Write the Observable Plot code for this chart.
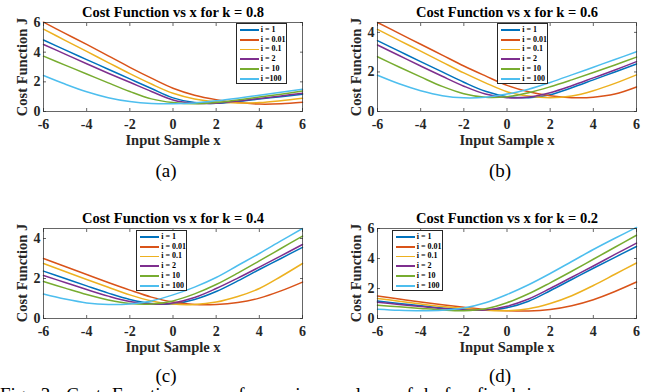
<!DOCTYPE html>
<html><head><meta charset="utf-8">
<script src="https://cdn.jsdelivr.net/npm/d3@7"></script>
<script src="https://cdn.jsdelivr.net/npm/@observablehq/plot@0.6"></script>
<style>
body{margin:0;background:#fff;}
#root{position:relative;width:656px;height:392px;overflow:hidden;background:#fff;font-family:"Liberation Serif","Times New Roman",serif;}
.panel{position:absolute;}
.legend{position:absolute;border:0.8px solid #262626;background:#fff;box-sizing:border-box;padding-top:1px;}
.row{display:flex;align-items:center;height:9.8px;}
.sw{width:19px;height:1.8px;margin-left:3px;flex:none;}
.lb{margin-left:2px;font-size:8px;font-weight:bold;color:#000;white-space:nowrap;line-height:8px;}
.ylab{position:absolute;width:120px;height:18px;line-height:18px;text-align:center;font-size:14.5px;font-weight:bold;color:#262626;transform:rotate(-90deg);white-space:nowrap;}
#caption{position:absolute;left:0;top:384px;font-size:19px;white-space:nowrap;color:#000;word-spacing:6px;}
</style></head><body><div id="root"></div>
<script>
// ---- data ----
const xValues = [-6,-5,-4,-3,-2,-1,0,1,2,3,4,5,6];
const xTicks = [-6,-4,-2,0,2,4,6];
const iValues = ["1","0.01","0.1","2","10","100"];
const seriesColors = ["#0072BD","#D95319","#EDB120","#7E2F8E","#77AC30","#4DBEEE"];
const kValues = [0.8,0.6,0.4,0.2];
const panelLetters = ["a","b","c","d"];
const yTicksA = [0,2,4,6];
const yTicksB = [0,2,4];
const yTicksC = [0,2,4];
const yTicksD = [0,2,4,6];
const yMaxA = 6, yMaxB = 4.5, yMaxC = 4.5, yMaxD = 6;
const legendLabelsA = ["i = 1","i = 0.01","i = 0.1","i = 2","i = 10","i =100"];
const legendLabelsB = ["i = 1","i = 0.01","i = 0.1","i = 2","i = 10","i = 100"];
const xLabel = "Input Sample x";
const yLabel = "Cost Function J";
const captionText = "Fig. 3: Cost Function vs x for various values of k for fixed i";

// cost values per series (order of iValues), k = 0.8
const costK08 = [
  [4.82,4.15,3.5,2.85,2.2,1.55,0.92,0.6,0.55,0.67,0.84,1.0,1.17],
  [6.02,5.27,4.52,3.75,2.98,2.25,1.57,1.1,0.8,0.6,0.5,0.52,0.62],
  [5.55,4.8,4.05,3.3,2.55,1.85,1.23,0.85,0.65,0.57,0.6,0.73,0.9],
  [4.52,3.87,3.22,2.58,1.97,1.35,0.78,0.55,0.56,0.7,0.88,1.05,1.23],
  [3.73,3.13,2.53,1.93,1.35,0.85,0.6,0.52,0.6,0.78,0.97,1.17,1.38],
  [2.43,1.85,1.33,0.93,0.67,0.54,0.52,0.58,0.72,0.9,1.1,1.3,1.5]
];
// k = 0.6
const costK06 = [
  [3.58,3.05,2.52,2.0,1.48,1.02,0.75,0.7,0.85,1.2,1.6,2.0,2.4],
  [4.5,3.95,3.4,2.85,2.3,1.8,1.32,1.0,0.8,0.7,0.72,0.88,1.24],
  [4.15,3.6,3.05,2.5,1.95,1.45,1.0,0.78,0.7,0.78,1.05,1.42,1.85],
  [3.36,2.83,2.3,1.78,1.28,0.88,0.7,0.73,0.95,1.3,1.7,2.1,2.52],
  [2.77,2.25,1.75,1.27,0.9,0.72,0.75,0.95,1.25,1.6,1.97,2.35,2.75],
  [1.83,1.4,1.05,0.8,0.69,0.72,0.88,1.13,1.47,1.85,2.24,2.63,3.02]
];
// k = 0.4
const costK04 = [
  [2.37,2.0,1.63,1.27,0.95,0.75,0.73,0.95,1.35,1.88,2.45,3.0,3.56],
  [3.0,2.6,2.2,1.8,1.42,1.07,0.82,0.7,0.7,0.8,1.02,1.38,1.82],
  [2.75,2.35,1.95,1.56,1.18,0.88,0.72,0.7,0.82,1.1,1.5,2.1,2.75],
  [2.15,1.8,1.45,1.12,0.85,0.72,0.78,1.05,1.5,2.02,2.57,3.13,3.7],
  [1.85,1.52,1.2,0.93,0.75,0.72,0.88,1.23,1.7,2.27,2.88,3.5,4.12],
  [1.22,0.97,0.78,0.7,0.73,0.88,1.18,1.57,2.05,2.65,3.25,3.88,4.5]
];
// k = 0.2
const costK02 = [
  [1.16,1.0,0.85,0.7,0.58,0.55,0.72,1.15,1.85,2.6,3.35,4.08,4.8],
  [1.5,1.3,1.1,0.92,0.75,0.6,0.52,0.5,0.6,0.85,1.25,1.8,2.43],
  [1.34,1.15,0.97,0.8,0.66,0.55,0.52,0.65,1.0,1.52,2.2,2.95,3.7],
  [1.09,0.94,0.8,0.66,0.56,0.57,0.82,1.3,2.0,2.75,3.5,4.27,5.02],
  [0.89,0.78,0.67,0.57,0.52,0.65,1.05,1.65,2.38,3.15,3.95,4.75,5.55],
  [0.62,0.55,0.52,0.55,0.7,1.05,1.6,2.25,3.0,3.8,4.6,5.35,6.07]
];

// ---- layout ----
const root = document.getElementById("root");
const ink = "#262626";
const fmt = d => String(d);

const panels = [
  {cost: costK08, k: kValues[0], letter: panelLetters[0], yMax: yMaxA, yTicks: yTicksA, labels: legendLabelsA,
   left: 0, top: 0, w: 328, h: 195, mL: 43, mR: 26, mT: 22, mB: 84, legL: 235.7, legT: 23},
  {cost: costK06, k: kValues[1], letter: panelLetters[1], yMax: yMaxB, yTicks: yTicksB, labels: legendLabelsB,
   left: 328, top: 0, w: 328, h: 195, mL: 49, mR: 20, mT: 22, mB: 84, legL: 497.3, legT: 23},
  {cost: costK04, k: kValues[2], letter: panelLetters[2], yMax: yMaxC, yTicks: yTicksC, labels: legendLabelsB,
   left: 0, top: 195, w: 328, h: 197, mL: 43, mR: 26, mT: 33, mB: 74, legL: 136.3, legT: 230},
  {cost: costK02, k: kValues[3], letter: panelLetters[3], yMax: yMaxD, yTicks: yTicksD, labels: legendLabelsB,
   left: 328, top: 195, w: 328, h: 197, mL: 49, mR: 20, mT: 33, mB: 74, legL: 391.7, legT: 230}
];

for (const p of panels) {
  const data = p.cost.flatMap((vals, s) => vals.map((v, j) => ({x: xValues[j], y: v, series: iValues[s]})));
  const tickStyle = {stroke: ink, strokeWidth: 0.7, tickFormat: () => "", label: null};
  const chart = Plot.plot({
    width: p.w, height: p.h,
    marginLeft: p.mL, marginRight: p.mR, marginTop: p.mT, marginBottom: p.mB,
    style: {fontFamily: '"Liberation Serif","Times New Roman",serif', fontWeight: "bold", fontSize: "14px", color: ink, background: "transparent", overflow: "visible"},
    x: {domain: [-6, 6], axis: null},
    y: {domain: [0, p.yMax], axis: null},
    color: {domain: iValues, range: seriesColors},
    marks: [
      Plot.line(data, {x: "x", y: "y", z: "series", stroke: "series", strokeWidth: 1.5, curve: "catmull-rom"}),
      Plot.frame({stroke: ink, strokeWidth: 0.7}),
      Plot.axisX({anchor: "bottom", ticks: xTicks, tickSize: -3, ...tickStyle}),
      Plot.axisX({anchor: "top", ticks: xTicks, tickSize: -3, ...tickStyle}),
      Plot.axisY({anchor: "left", ticks: p.yTicks, tickSize: -3, ...tickStyle}),
      Plot.axisY({anchor: "right", ticks: p.yTicks, tickSize: -3, ...tickStyle}),
      Plot.axisX({anchor: "bottom", ticks: xTicks, tickFormat: fmt, tickSize: 0, tickPadding: 8, label: null, fill: ink, fontSize: 14}),
      Plot.axisY({anchor: "left", ticks: p.yTicks, tickFormat: fmt, tickSize: 0, tickPadding: 3, label: null, fill: ink, fontSize: 14}),
      Plot.text([`Cost Function vs x for k = ${p.k}`], {frameAnchor: "top", dy: -10.5, fontSize: 14.5, fontWeight: "bold", fill: "#000", lineAnchor: "middle"}),
      Plot.text([xLabel], {frameAnchor: "bottom", dy: 29, fontSize: 14.5, fontWeight: "bold", fill: ink, lineAnchor: "middle"}),
      Plot.text([`(${p.letter})`], {frameAnchor: "bottom", dy: p.top === 0 ? 59 : 57, dx: -7, fontSize: 19, fontWeight: "normal", fill: "#000", lineAnchor: "middle"})
    ]
  });
  chart.classList.add("panel");
  chart.style.left = p.left + "px";
  chart.style.top = p.top + "px";
  root.appendChild(chart);

  // y label (rotated), centered on the frame's vertical middle
  const yl = document.createElement("div");
  yl.className = "ylab";
  yl.textContent = yLabel;
  const cx = p.left + p.mL - 21;
  const cy = p.top + p.mT + (p.h - p.mT - p.mB) / 2;
  yl.style.left = (cx - 60) + "px";
  yl.style.top = (cy - 9) + "px";
  root.appendChild(yl);

  // legend box
  const leg = document.createElement("div");
  leg.className = "legend";
  leg.style.left = p.legL + "px";
  leg.style.top = p.legT + "px";
  leg.style.width = "51px";
  leg.style.height = "60.5px";
  p.labels.forEach((lab, s) => {
    const row = document.createElement("div");
    row.className = "row";
    const sw = document.createElement("div");
    sw.className = "sw";
    sw.style.background = seriesColors[s];
    const t = document.createElement("div");
    t.className = "lb";
    t.textContent = lab;
    row.appendChild(sw); row.appendChild(t);
    leg.appendChild(row);
  });
  root.appendChild(leg);
}

const cap = document.createElement("div");
cap.id = "caption";
cap.textContent = captionText;
root.appendChild(cap);
</script>
</body></html>
